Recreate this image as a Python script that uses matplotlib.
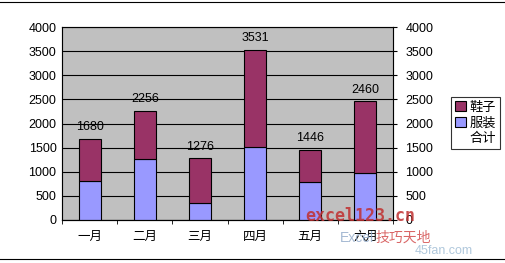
import matplotlib
matplotlib.use("Agg")
import matplotlib.pyplot as plt
import numpy as np

plt.rcParams['font.family'] = ['Liberation Sans', 'Noto Sans CJK SC', 'DejaVu Sans']

months = ["一月", "二月", "三月", "四月", "五月", "六月"]
clothes = [810, 1270, 360, 1520, 790, 965]      # 服装
shoes = [870, 986, 916, 2011, 656, 1495]        # 鞋子
totals = [1680, 2256, 1276, 3531, 1446, 2460]   # 合计

fig = plt.figure(figsize=(5.05, 2.63), dpi=100)
ax = fig.add_axes([62 / 505, 1 - 220 / 263, (393 - 62) / 505, (220 - 27) / 263])
ax.set_facecolor("#C0C0C0")

x = np.arange(len(months))
ax.bar(x, clothes, width=0.4, color="#9999FF", edgecolor="black", linewidth=0.8, label="服装", zorder=3)
ax.bar(x, shoes, width=0.4, bottom=clothes, color="#993366", edgecolor="black", linewidth=0.8, label="鞋子", zorder=3)
ax.plot(x, totals, linestyle="none", label="合计")
for xi, t in zip(x, totals):
    ax.text(xi, t + 120, str(t), ha="center", va="bottom", fontsize=9)

ax.set_xlim(-0.5, 5.5)
ax.set_ylim(0, 4000)
ax.set_yticks(range(0, 4001, 500))
ax.yaxis.grid(True, color="black", linewidth=0.8, zorder=1)
ax.set_axisbelow(True)
ax.set_xticks(x)
ax.set_xticklabels(months, fontsize=9)
ax.set_xticks(np.arange(-0.5, 6, 1), minor=True)
ax.tick_params(axis="x", which="major", length=0, pad=8)
ax.tick_params(axis="x", which="minor", length=3, direction="out")
ax.tick_params(axis="y", length=0, labelsize=9, pad=4)
for s in ["top", "right"]:
    ax.spines[s].set_color("#808080")
ax.spines["left"].set_color("#808080")
ax.spines["bottom"].set_color("black")

ax2 = ax.twinx()
ax2.set_ylim(0, 4000)
ax2.set_yticks(range(0, 4001, 500))
ax2.tick_params(axis="y", length=3, labelsize=9, pad=6)
ax2.spines["right"].set_color("black")

h, l = ax.get_legend_handles_labels()
by_label = dict(zip(l, h))
names = ["鞋子", "服装", "合计"]
leg = fig.legend([by_label[n] for n in names], names,
                 loc="upper left", bbox_to_anchor=(451 / 505, 1 - 97 / 263),
                 fontsize=9.5, frameon=True, fancybox=False, edgecolor="black",
                 handlelength=0.8, handleheight=0.8, handletextpad=0.3,
                 borderpad=0.3, labelspacing=0.25, borderaxespad=0)
leg.get_frame().set_linewidth(0.8)

# watermark
fig.text(305 / 505, 1 - 216 / 263, "excel123.cn", color="#C03030", fontsize=12,
         fontweight="bold", family="DejaVu Sans Mono", alpha=0.85, va="center")
fig.text(340 / 505, 1 - 238 / 263, "Excel", color="#8FA8C8", fontsize=10,
         alpha=0.8, va="center")
fig.text(376 / 505, 1 - 238 / 263, "技巧天地", color="#D04040", fontsize=10,
         alpha=0.8, va="center", family=["Noto Sans CJK SC", "DejaVu Sans"])
fig.text(415 / 505, 1 - 251 / 263, "45fan.com", color="#B0C8DC", fontsize=9, va="center")

# chart border lines
fig.add_artist(plt.Line2D([0, 1], [1 - 2 / 263, 1 - 2 / 263], color="black", linewidth=0.8))
fig.add_artist(plt.Line2D([0, 1], [1 - 259 / 263, 1 - 259 / 263], color="black", linewidth=0.8))

fig.savefig("out.png", dpi=100)
